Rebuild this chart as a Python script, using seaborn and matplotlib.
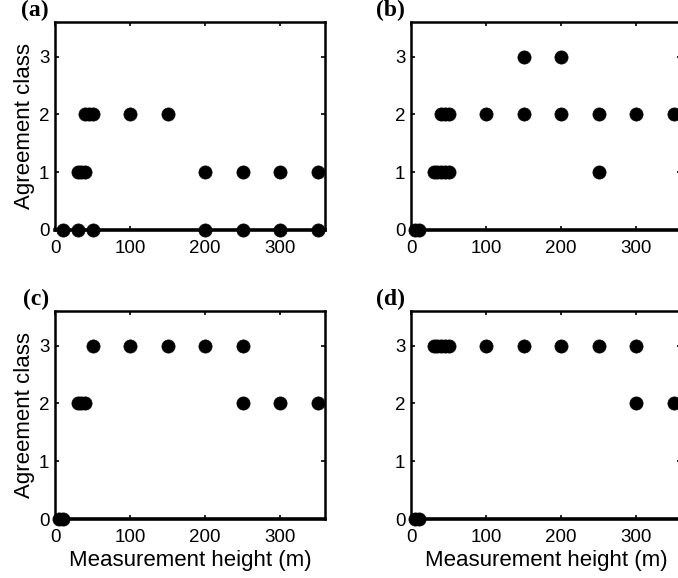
import matplotlib
matplotlib.use("Agg")
import matplotlib.pyplot as plt
import seaborn as sns
import pandas as pd

sns.set_theme(style="white")
plt.rcParams['font.family'] = ['Liberation Sans', 'DejaVu Sans']

# Panel data: measurement heights (m) and agreement classes
a_height = [10, 30, 50, 200, 250, 300, 350,
            30, 35, 40, 200, 250, 300, 350,
            40, 45, 50, 100, 150]
a_class = [0, 0, 0, 0, 0, 0, 0,
           1, 1, 1, 1, 1, 1, 1,
           2, 2, 2, 2, 2]

b_height = [5, 10,
            30, 35, 40, 45, 50, 250,
            40, 45, 50, 100, 150, 200, 250, 300, 350,
            150, 200]
b_class = [0, 0,
           1, 1, 1, 1, 1, 1,
           2, 2, 2, 2, 2, 2, 2, 2, 2,
           3, 3]

c_height = [5, 10,
            30, 35, 40, 250, 300, 350,
            50, 100, 150, 200, 250]
c_class = [0, 0,
           2, 2, 2, 2, 2, 2,
           3, 3, 3, 3, 3]

d_height = [5, 10,
            300, 350,
            30, 35, 40, 45, 50, 100, 150, 200, 250, 300]
d_class = [0, 0,
           2, 2,
           3, 3, 3, 3, 3, 3, 3, 3, 3, 3]

panel_labels = ["(a)", "(b)", "(c)", "(d)"]
x_ticks = [0, 100, 200, 300]
y_ticks = [0, 1, 2, 3]
x_label = "Measurement height (m)"
y_label = "Agreement class"

W, H = 678, 578
fig = plt.figure(figsize=(W / 100, H / 100), dpi=100)

def px_axes(left, top, width, height):
    return fig.add_axes([left / W, 1 - (top + height) / H, width / W, height / H])

panels = [
    (a_height, a_class, 55, 22, True, False),
    (b_height, b_class, 411, 22, False, False),
    (c_height, c_class, 55, 311, True, True),
    (d_height, d_class, 411, 311, False, True),
]

for i, (hx, cy, left, top, show_y, show_x) in enumerate(panels):
    ax = px_axes(left, top, 270, 208)
    df = pd.DataFrame({"height": hx, "cls": cy})
    sns.scatterplot(data=df, x="height", y="cls", ax=ax, color="black",
                    edgecolor="black", s=90, marker="o", linewidth=0.5,
                    legend=False, zorder=3, clip_on=False)
    ax.set_xlim(0, 360)
    ax.set_ylim(0, 3.6)
    ax.set_xticks(x_ticks)
    ax.set_yticks(y_ticks)
    ax.tick_params(direction="in", length=3, width=1.2, top=True, right=True,
                   bottom=True, left=True, labelsize=13.5, colors="black",
                   pad=7)
    ax.tick_params(axis="y", pad=4)
    for lab in ax.get_xticklabels() + ax.get_yticklabels():
        lab.set_fontweight("medium")
    for name, sp in ax.spines.items():
        sp.set_visible(True)
        sp.set_color("black")
        sp.set_linewidth(1.8)
    ax.spines["bottom"].set_linewidth(2.6)
    ax.set_xlabel(x_label if show_x else "", fontsize=16, color="black", labelpad=3)
    ax.set_ylabel(y_label if show_y else "", fontsize=16, color="black", labelpad=3)
    fig.text((left - 6) / W, 1 - (top - 1) / H, panel_labels[i],
             family="Liberation Serif", fontweight="bold", fontsize=17,
             ha="right", va="bottom", color="black")

fig.savefig("out.png", dpi=100)
